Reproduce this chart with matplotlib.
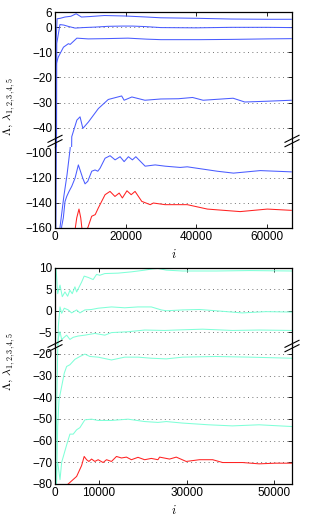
import matplotlib
matplotlib.use('Agg')
import matplotlib.pyplot as plt
from matplotlib.lines import Line2D

plt.rcParams['font.family'] = ['Liberation Sans', 'DejaVu Sans']
plt.rcParams['mathtext.fontset'] = 'cm'

BLUE = '#4a5cff'
AQUA = '#80ffd8'
RED = '#ff2222'

# ---- top panel: Lambda and lambda_1..5 (blue), Lambda (red) ----
top_i1 = [0, 300, 600, 1500, 2800, 4500, 6000, 7500, 10000, 14000, 20000, 26000, 30000, 40000, 50000, 60000, 67000]
top_v1 = [-300, -6, 3.3, 3.5, 4.0, 4.3, 5.3, 4.0, 4.2, 4.6, 4.4, 4.0, 3.7, 3.5, 3.2, 3.1, 3.1]

top_i2 = [0, 500, 1400, 2500, 3700, 5700, 8000, 11400, 15000, 19000, 22000, 25600, 30000, 40000, 50000, 60000, 67000]
top_v2 = [-300, -6.5, 1.0, 0.8, 0.3, -0.4, -0.2, 0.0, 0.3, 0.4, 0.4, 0.2, -0.2, -0.3, -0.1, -0.1, -0.2]

top_i3 = [0, 900, 2400, 3800, 4300, 6200, 9400, 14200, 20700, 26000, 30000, 41000, 50000, 60000, 67000]
top_v3 = [-16.5, -12, -8, -6.6, -6.9, -4.4, -4.7, -4.6, -4.4, -4.8, -5.0, -5.0, -4.9, -4.7, -4.6]

top_i4 = [0, 1400, 2500, 3400, 4300, 4750, 6200, 7100, 7900, 9500, 12300, 15100, 18900, 19600, 21800,
          25500, 30000, 35000, 39000, 42000, 50500, 53800, 60000, 67000]
top_v4 = [-300, -160, -135, -118, -97, -43.6, -37, -35.7, -40.3, -37.7, -32.4, -28.8, -27.4, -29.1, -27.8,
          -29.1, -28.6, -28.5, -28.0, -29.1, -28.3, -29.8, -29.5, -29.1]

top_i5 = [1500, 1900, 2360, 2840, 3320, 3980, 4740, 5680, 6620, 7100, 7870, 8520, 9290, 10420, 11360, 12130,
          12780, 14200, 15620, 17040, 18460, 19600, 20820, 21950, 22920, 25560, 28400, 31240, 35500, 37500,
          46000, 50600, 58200, 67000]
top_v5 = [-175, -158.6, -152, -139, -135, -131, -127, -120.5, -110, -114, -120.5, -125, -123, -115, -114, -115,
          -112.6, -104.7, -102.7, -106, -103.5, -107.4, -103.5, -106, -103.5, -111, -110, -111, -112, -111.5,
          -115, -116.5, -114.5, -115.5]

top_ir = [5000, 6160, 6800, 7300, 7700, 8500, 9400, 10400, 11400, 12300, 14200, 15600, 17000, 18200, 19100,
          20400, 21600, 22700, 24600, 27000, 27900, 31200, 37500, 43200, 52500, 60200, 67000]
top_vr = [-175, -152, -145, -152, -162, -165, -159, -150.7, -149.4, -144, -133.6, -131, -135, -132.3, -136.2,
          -130.5, -133.6, -131, -138.9, -141.5, -140.2, -141.5, -141.5, -145, -147, -145, -146]

# ---- bottom panel: lambda_1..5 (aqua), Lambda (red) ----
bot_i1 = [0, 227, 610, 1140, 1660, 2270, 2880, 3400, 3930, 4540, 4930, 6060, 6650, 7560, 8690, 9470, 10200,
          11350, 14370, 17410, 20430, 22250, 23450, 25360, 29060, 36700, 44300, 54000]
bot_v1 = [10.5, 10.2, 4.0, 6.0, 3.3, 4.4, 3.4, 4.8, 4.0, 5.6, 4.4, 6.7, 8.1, 7.8, 7.3, 8.5, 8.3,
          8.7, 8.8, 9.1, 9.5, 9.8, 9.9, 9.5, 9.3, 9.3, 9.4, 9.3]

bot_i2 = [0, 750, 1140, 1520, 2110, 3020, 3790, 4930, 5680, 6810, 8330, 9830, 12870, 15890, 18910, 21950,
          24220, 25360, 29060, 32920, 36700, 42680, 48060, 54000]
bot_v2 = [-90, -3.7, 0.9, -0.6, 0.6, 0.2, -0.5, 0.2, -0.5, 0.2, 0.3, 0.6, 0.9, 0.7, 0.9, 0.9,
          0.2, 0.0, 0.2, 0.3, 0.0, -0.5, -0.2, -0.3]

bot_i3 = [500, 750, 1140, 1520, 2650, 3400, 4150, 5290, 6810, 9080, 11350, 12870, 16640, 20430, 24970,
          27630, 33600, 40400, 46500, 54000]
bot_v3 = [-8.5, -6.4, -4.9, -6.7, -5.7, -6.7, -6.2, -5.9, -5.7, -5.3, -5.7, -5.1, -4.9, -4.5, -4.6,
          -4.5, -4.3, -4.6, -4.5, -4.6]

bot_i4 = [0, 380, 610, 910, 1520, 2110, 2650, 3400, 4540, 5680, 6810, 7950, 9830, 12870, 15890, 18910,
          21950, 25360, 29060, 36700, 44300, 54000]
bot_v4 = [-95, -78, -53.5, -41.2, -35, -28.9, -25.8, -25, -22.5, -21.2, -20.1, -21.2, -21.5, -22.8, -21.5, -21.5,
          -22, -22.3, -21.5, -21.2, -21.5, -22]

bot_i5 = [0, 380, 610, 1140, 1520, 2650, 3400, 4150, 4930, 5680, 6810, 8330, 9830, 12870, 16640, 20430,
          23450, 25360, 29060, 35000, 40400, 46500, 54000]
bot_v5 = [-90, -72, -70, -78, -70, -62, -57, -57, -55, -54, -50.4, -50.1, -50.7, -50.7, -50.1, -51.2,
          -51.6, -51.2, -51.9, -52.7, -53.2, -52.7, -53.5]

bot_ir = [3000, 4930, 6060, 6650, 7200, 7720, 8330, 9080, 9830, 10960, 11740, 12870, 14010, 15140, 16280,
          17410, 18910, 20430, 21950, 23450, 23840, 26100, 27630, 29900, 32900, 35930, 38200, 42740, 46500,
          50300, 54000]
bot_vr = [-80, -76.5, -71.5, -67.3, -68.8, -69.6, -68.5, -69.6, -68.8, -70.1, -68.8, -69.6, -67.3, -68, -67.6,
          -68.8, -67.7, -68.8, -68.2, -68.8, -67.6, -68.5, -67.6, -69.6, -68.8, -68.8, -70.1, -70.1, -70.7,
          -70.4, -70.4]

top_xticks = [0, 20000, 40000, 60000]
bot_xticks = [0, 10000, 30000, 50000]
top_yticks_hi = [6, 0, -10, -20, -30, -40]
top_yticks_lo = [-100, -120, -140, -160]
bot_yticks_hi = [10, 5, 0, -5]
bot_yticks_lo = [-20, -30, -40, -50, -60, -70, -80]

W, H = 309, 521


def px_axes(fig, x0, x1, y0, y1):
    return fig.add_axes([x0 / W, 1 - y1 / H, (x1 - x0) / W, (y1 - y0) / H])


def style(ax, yticks, ylim, xlim, xticks, is_top, is_bottom):
    ax.set_xlim(xlim)
    ax.set_ylim(ylim)
    ax.set_yticks(yticks)
    ax.set_yticklabels([f'{t:g}'.replace('-', '\u2212') for t in yticks])
    ax.set_xticks(xticks)
    for t in yticks:
        ax.axhline(t, color='0.45', lw=0.7, ls=(0, (1, 3.5)), zorder=0)
    ax.tick_params(direction='in', length=3, width=0.6, labelsize=8.5, pad=2,
                   top=is_top, right=True, bottom=is_bottom, labelbottom=is_bottom)
    for s in ax.spines.values():
        s.set_linewidth(0.9)
    ax.spines['top'].set_visible(is_top)
    ax.spines['bottom'].set_visible(is_bottom)
    if is_bottom:
        ax.set_xticklabels([str(t) for t in xticks])


def break_marks(fig, xs, ypx):
    # two slanted strokes "//" across each side spine
    for xp in xs:
        for dy in (-2.2, 2.2):
            x0, x1 = xp - 7, xp + 7
            y0, y1 = ypx + dy + 3.5, ypx + dy - 3.5
            fig.add_artist(Line2D([x0 / W, x1 / W], [1 - y0 / H, 1 - y1 / H],
                                  color='k', lw=0.8))


def panel(fig, y_top, y_brk, y_bot, hi_lim, lo_lim, hi_ticks, lo_ticks, xlim, xticks, lines,
          xlabel_y, mark_y):
    ax_hi = px_axes(fig, 55, 292, y_top, y_brk)
    ax_lo = px_axes(fig, 55, 292, y_brk, y_bot)
    for ax in (ax_hi, ax_lo):
        for xi, yi, c in lines:
            ax.plot(xi, yi, color=c, lw=0.75)
    style(ax_hi, hi_ticks, hi_lim, xlim, xticks, True, False)
    style(ax_lo, lo_ticks, lo_lim, xlim, xticks, False, True)
    break_marks(fig, [55, 292], mark_y)
    fig.text(173.5 / W, 1 - xlabel_y / H, r'$i$', ha='center', va='center', fontsize=9)


fig = plt.figure(figsize=(W / 100, H / 100), dpi=100)

panel(fig, 12, 147, 228, (-47.7, 6), (-160, -95.8), top_yticks_hi, top_yticks_lo,
      (0, 67200), top_xticks,
      [(top_i1, top_v1, BLUE), (top_i2, top_v2, BLUE), (top_i3, top_v3, BLUE),
       (top_i4, top_v4, BLUE), (top_i5, top_v5, BLUE), (top_ir, top_vr, RED)], 255, 141)

panel(fig, 268, 345, 484, (-8, 10), (-80, -15.9), bot_yticks_hi, bot_yticks_lo,
      (0, 54000), bot_xticks,
      [(bot_i1, bot_v1, AQUA), (bot_i2, bot_v2, AQUA), (bot_i3, bot_v3, AQUA),
       (bot_i4, bot_v4, AQUA), (bot_i5, bot_v5, AQUA), (bot_ir, bot_vr, RED)], 510, 346)

ylab = r'$\Lambda,\,\lambda_{1,2,3,4,5}$'
fig.text(9 / W, 1 - 106 / H, ylab, rotation=90, ha='center', va='center', fontsize=8.5)
fig.text(9 / W, 1 - 361 / H, ylab, rotation=90, ha='center', va='center', fontsize=8.5)

fig.savefig('out.png', dpi=100)
